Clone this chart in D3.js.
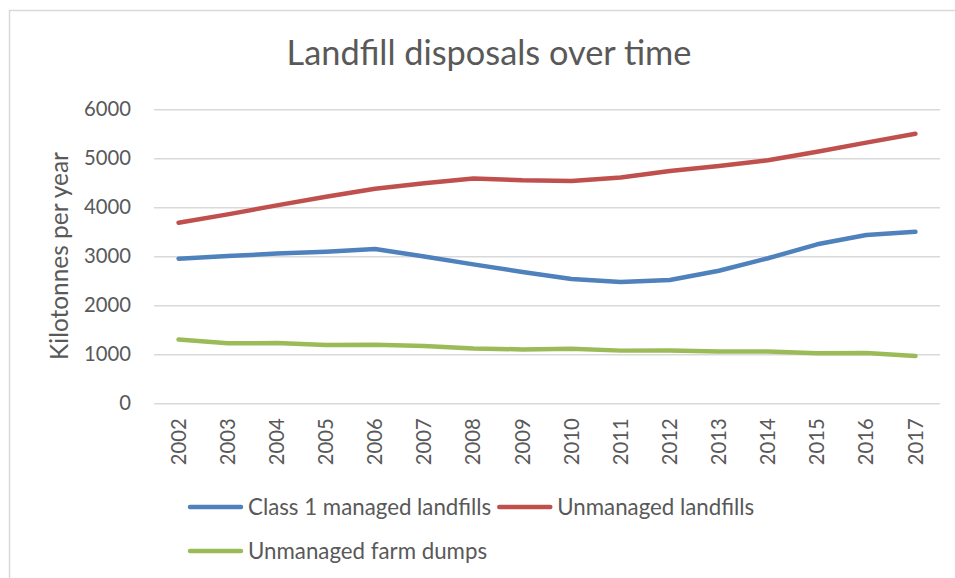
<!DOCTYPE html>
<html>
<head>
<meta charset="utf-8">
<script src="https://cdn.jsdelivr.net/npm/d3@7/dist/d3.min.js"></script>
<style>
  html, body { margin: 0; padding: 0; background: #fff; }
  svg { display: block; }
  text { font-family: Lato, "Open Sans", sans-serif; fill: #595959; }
</style>
</head>
<body>
<svg id="chart" width="955" height="578"></svg>
<script>
// Landfill disposals, kilotonnes per year
const years = [2002, 2003, 2004, 2005, 2006, 2007, 2008, 2009, 2010, 2011, 2012, 2013, 2014, 2015, 2016, 2017];
const class1Managed = [2950, 3005, 3055, 3095, 3150, 2995, 2835, 2680, 2535, 2475, 2515, 2705, 2960, 3245, 3435, 3500];
const unmanagedLandfills = [3685, 3855, 4040, 4215, 4380, 4490, 4590, 4550, 4535, 4610, 4740, 4845, 4960, 5135, 5320, 5500];
const unmanagedFarmDumps = [1300, 1225, 1230, 1190, 1195, 1170, 1120, 1100, 1115, 1075, 1080, 1055, 1055, 1020, 1025, 965];
const yTicks = [0, 1000, 2000, 3000, 4000, 5000, 6000];
const seriesNames = ["Class 1 managed landfills", "Unmanaged landfills", "Unmanaged farm dumps"];
const seriesColors = ["#4F81BD", "#C0504D", "#9BBB59"];

const series = [class1Managed, unmanagedLandfills, unmanagedFarmDumps].map((vals, i) => ({
  name: seriesNames[i], color: seriesColors[i], values: vals
}));

const svg = d3.select("#chart");

// Size a text element's font so it spans the given width
function fitWidth(sel, width) {
  const node = sel.node();
  sel.style("font-size", "20px");
  const w = node.getComputedTextLength();
  const size = 20 * width / w;
  sel.style("font-size", size + "px");
  return size;
}
function fontSizeFor(str, width) {
  const t = svg.append("text").text(str);
  const s = fitWidth(t, width);
  t.remove();
  return s;
}

// chart frame
svg.append("rect")
  .attr("x", 9.5).attr("y", 10.5)
  .attr("width", 980).attr("height", 600)
  .attr("fill", "none").attr("stroke", "#d9d9d9").attr("stroke-width", 1.5);

const plot = { left: 154, right: 940, top: 109.3, bottom: 403.3 };

const x = d3.scaleBand().domain(years).range([plot.left, plot.right]);
const xc = d => x(d) + x.bandwidth() / 2;
const y = d3.scaleLinear().domain([0, 6000]).range([plot.bottom, plot.top]);

// title
const title = svg.append("text")
  .attr("x", 489).attr("y", 65)
  .attr("text-anchor", "middle")
  .text("Landfill disposals over time");
fitWidth(title, 405);

// gridlines and y tick labels
const yAxis = d3.axisLeft(y).tickValues(yTicks).tickSize(-(plot.right - plot.left)).tickPadding(23).tickFormat(d3.format("d"));
const yg = svg.append("g").attr("transform", `translate(${plot.left},0)`).call(yAxis);
yg.select(".domain").remove();
yg.selectAll(".tick line").attr("stroke", "#d9d9d9").attr("stroke-width", 1.5);
const tickSize = fontSizeFor("6000", 47);
yg.selectAll(".tick text")
  .attr("fill", "#595959")
  .style("font-family", "Lato, 'Open Sans', sans-serif")
  .style("font-size", tickSize + "px");

// y axis title
const yTitle = svg.append("text")
  .attr("transform", "translate(68,256) rotate(-90)")
  .attr("text-anchor", "middle")
  .text("Kilotonnes per year");
fitWidth(yTitle, 208);

// x tick labels, rotated
const xAxis = d3.axisBottom(x).tickSize(0).tickPadding(0);
const xg = svg.append("g").attr("transform", `translate(0,${plot.bottom})`).call(xAxis);
xg.select(".domain").remove();
xg.selectAll(".tick text")
  .attr("fill", "#595959")
  .style("font-family", "Lato, 'Open Sans', sans-serif")
  .style("font-size", tickSize + "px")
  .attr("text-anchor", "end")
  .attr("dy", "0.35em")
  .attr("transform", "translate(0,15) rotate(-90)")
  .attr("x", 0).attr("y", 0);

// series lines
const line = d3.line().x((d, i) => xc(years[i])).y(d => y(d));
svg.append("g").selectAll("path").data(series).join("path")
  .attr("d", s => line(s.values))
  .attr("fill", "none")
  .attr("stroke", s => s.color)
  .attr("stroke-width", 4.5)
  .attr("stroke-linecap", "round")
  .attr("stroke-linejoin", "round");

// legend
const legendSize = fontSizeFor("Unmanaged landfills", 197);
const rows = [[series[0], series[1]], [series[2]]];
const rowY = [507, 551];
rows.forEach((items, r) => {
  let cx = 188;
  items.forEach(s => {
    svg.append("line")
      .attr("x1", cx + 2).attr("x2", cx + 53)
      .attr("y1", rowY[r]).attr("y2", rowY[r])
      .attr("stroke", s.color).attr("stroke-width", 4.5)
      .attr("stroke-linecap", "round");
    const t = svg.append("text")
      .attr("x", cx + 60).attr("y", rowY[r])
      .attr("dy", "0.35em")
      .style("font-size", legendSize + "px")
      .text(s.name);
    cx = cx + 60 + t.node().getComputedTextLength() + 6;
  });
});
</script>
</body>
</html>
